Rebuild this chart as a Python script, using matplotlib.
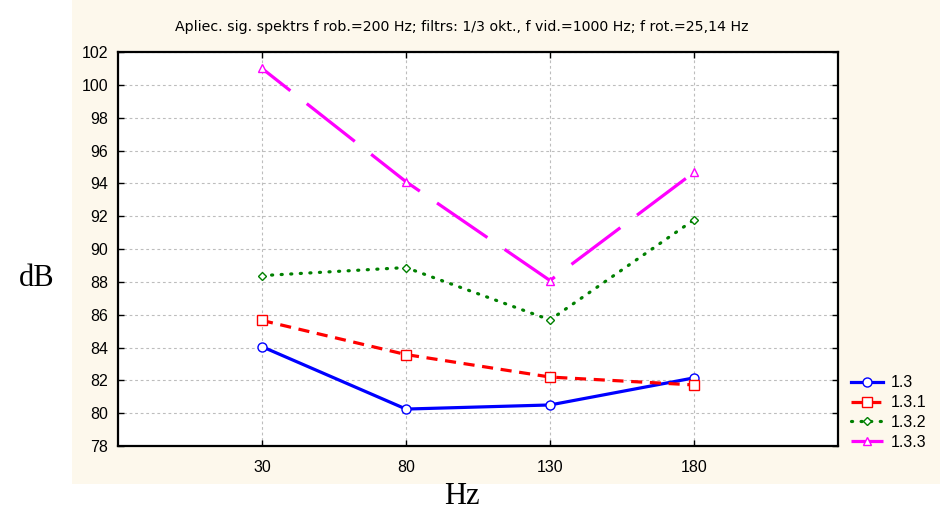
import matplotlib.pyplot as plt
from matplotlib.patches import Rectangle

# Dati no attēla
freq = [30, 80, 130, 180]
s_13 = [84.05, 80.25, 80.5, 82.15]
s_131 = [85.65, 83.57, 82.2, 81.72]
s_132 = [88.38, 88.87, 85.68, 91.78]
s_133 = [101.0, 94.1, 88.08, 94.67]
labels = ["1.3", "1.3.1", "1.3.2", "1.3.3"]
yticks = list(range(78, 103, 2))

title = "Apliec. sig. spektrs f rob.=200 Hz; filtrs: 1/3 okt., f vid.=1000 Hz; f rot.=25,14 Hz"

plt.rcParams["lines.scale_dashes"] = False

fig = plt.figure(figsize=(9.44, 5.15), dpi=100)
fig.patch.set_facecolor("white")
bg = Rectangle((72/944, 31/515), 868/944, 484/515,
               transform=fig.transFigure, facecolor="#fdf8ec",
               edgecolor="none", zorder=-10)
fig.add_artist(bg)

ax = fig.add_axes([118/944, 69/515, 720/944, 394/515])
ax.set_facecolor("white")
ax.set_zorder(1)

ax.plot(freq, s_13, color="#0000ff", lw=2.3, marker="o", ms=6.5,
        mfc="white", mec="#0000ff", mew=1.0, label=labels[0])
ax.plot(freq, s_131, color="#ff0000", lw=2.3, ls=(0, (8, 5.5)), marker="s", ms=7,
        mfc="white", mec="#ff0000", mew=1.0, label=labels[1])
ax.plot(freq, s_132, color="#008000", lw=2.3, ls=(0, (0.8, 6.1)),
        dash_capstyle="round", marker="D", ms=4.5,
        mfc="white", mec="#008000", mew=1.0, label=labels[2])
ax.plot(freq, s_133, color="#ff00ff", lw=2.3, ls=(18, (44, 15)), marker="^", ms=5.5,
        mfc="white", mec="#ff00ff", mew=1.0, label=labels[3])

ax.set_xlim(-20, 230)
ax.set_ylim(78, 102)
ax.set_xticks(freq)
ax.set_yticks(yticks)
ax.tick_params(direction="in", length=4, width=1, top=True, right=True,
               labelsize=11.5, pad=10)
ax.tick_params(axis="y", pad=7)
for lab in ax.get_xticklabels() + ax.get_yticklabels():
    lab.set_fontfamily("Liberation Sans")
ax.grid(True, color="#bdbdbd", ls=(0, (2, 2)), lw=0.8)
for sp in ax.spines.values():
    sp.set_linewidth(1.6)

fig.text(462/944, 488/515, title, ha="center", va="center", fontsize=10.2,
         family="DejaVu Sans")
fig.text(37/944, 236/515, "dB", ha="center", va="center", fontsize=22,
         family="Liberation Serif")
fig.text(462/944, 18/515, "Hz", ha="center", va="center", fontsize=22,
         family="Liberation Serif")

leg = ax.legend(loc="upper left", bbox_to_anchor=(845/944, 146/515),
                bbox_transform=fig.transFigure, frameon=False, fontsize=11.5,
                handlelength=2.0, handletextpad=0.45, labelspacing=0.3,
                borderaxespad=0)
for t in leg.get_texts():
    t.set_fontfamily("Liberation Sans")

fig.savefig("out.png", dpi=100)
